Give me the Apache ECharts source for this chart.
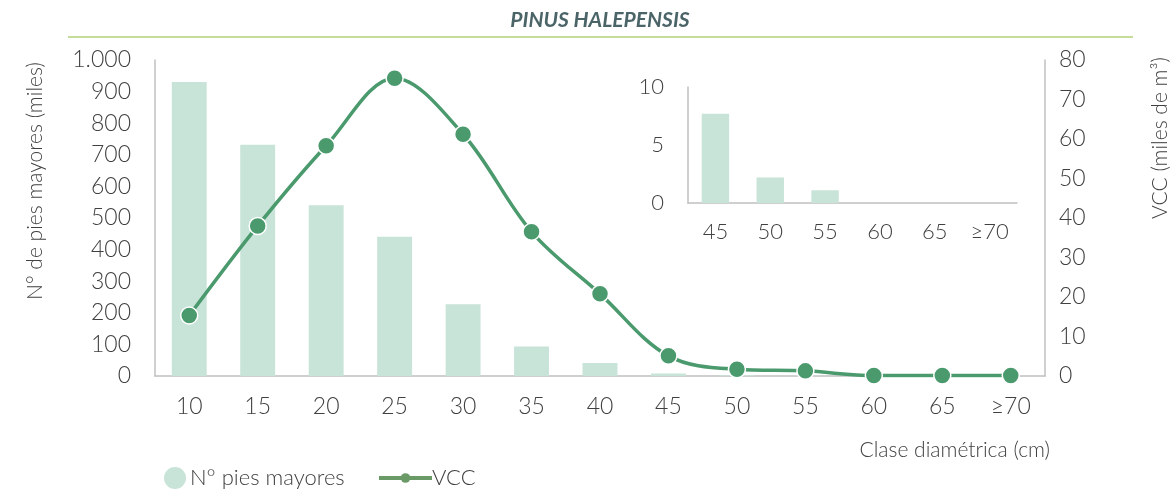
<!DOCTYPE html>
<html><head><meta charset="utf-8">
<script src="https://cdn.jsdelivr.net/npm/echarts@6/dist/echarts.min.js"></script>
<style>html,body{margin:0;padding:0;background:#fff}#c{width:1173px;height:489px}</style>
</head><body><div id="c"></div>
<script>
const categories = ['10','15','20','25','30','35','40','45','50','55','60','65','≥70'];
const piesMayores = [930, 732, 540, 441, 227, 93, 41, 7.7, 2.2, 1.1, 0, 0, 0];
const vcc = [15.3, 38.0, 58.3, 75.4, 61.2, 36.5, 20.8, 5.1, 1.7, 1.3, 0.1, 0.1, 0.1];
const insetCategories = ['45','50','55','60','65','≥70'];
const insetPies = [7.7, 2.2, 1.1, 0, 0, 0];

const FONT = 'Lato';
const TXT = '#404040';
const BAR = '#c8e3d7';
const LINE = '#4a9a6e';
const AX = '#c0c0c0';

const chart = echarts.init(document.getElementById('c'), null, {renderer:'canvas'});
chart.setOption({
  animation:false,
  textStyle:{fontFamily:FONT},
  grid:[
    {left:155, right:128, top:60, bottom:113},
    {left:688, right:156, top:87, bottom:286}
  ],
  xAxis:[
    {type:'category', gridIndex:0, data:categories,
     axisLine:{lineStyle:{color:AX,width:1.5}}, axisTick:{show:false},
     axisLabel:{color:TXT,fontSize:23,fontWeight:300,margin:19,fontFamily:FONT}},
    {type:'category', gridIndex:1, data:insetCategories,
     axisLine:{lineStyle:{color:AX,width:1.5}}, axisTick:{show:false},
     axisLabel:{color:TXT,fontSize:22,fontWeight:300,margin:18,fontFamily:FONT}}
  ],
  yAxis:[
    {type:'value', gridIndex:0, min:0, max:1000, interval:100,
     axisLine:{show:true,lineStyle:{color:AX,width:1.5}}, axisTick:{show:false}, splitLine:{show:false},
     axisLabel:{color:TXT,fontSize:23,fontWeight:300,margin:24,fontFamily:FONT,
       formatter:v=>v===1000?'1.000':String(v)}},
    {type:'value', gridIndex:0, min:0, max:80, interval:10, position:'right',
     axisLine:{show:true,lineStyle:{color:AX,width:1.5}}, axisTick:{show:false}, splitLine:{show:false},
     axisLabel:{color:TXT,fontSize:23,fontWeight:300,margin:14,fontFamily:FONT}},
    {type:'value', gridIndex:1, min:0, max:10, interval:5,
     axisLine:{show:true,lineStyle:{color:AX,width:1.5}}, axisTick:{show:false}, splitLine:{show:false},
     axisLabel:{color:TXT,fontSize:22,fontWeight:300,margin:24,fontFamily:FONT}}
  ],
  legend:[
    {left:159, top:462, itemWidth:22, itemHeight:22, itemGap:20,
     data:[{name:'N° pies mayores', icon:'circle'}],
     textStyle:{color:TXT,fontSize:22,fontWeight:300,fontFamily:FONT,padding:[0,0,0,-1]}},
    {left:372, top:462, itemWidth:53, itemHeight:12,
     data:[{name:'VCC', itemStyle:{color:'#6a9a66',borderWidth:0}, lineStyle:{color:'#6a9a66',width:4}}],
     textStyle:{color:TXT,fontSize:22,fontWeight:300,fontFamily:FONT,padding:[0,0,0,-5]}}
  ],
  series:[
    {name:'N° pies mayores', type:'bar', xAxisIndex:0, yAxisIndex:0, data:piesMayores,
     barWidth:'51%', itemStyle:{color:BAR}},
    {name:'VCC', type:'line', xAxisIndex:0, yAxisIndex:1, data:vcc, smooth:0.35,
     symbol:'circle', symbolSize:17, lineStyle:{color:LINE,width:3.5},
     itemStyle:{color:LINE,borderColor:'#fff',borderWidth:1.5}, z:5},
    {name:'inset', type:'bar', xAxisIndex:1, yAxisIndex:2, data:insetPies,
     barWidth:'50%', itemStyle:{color:BAR}, legendHoverLink:false}
  ],
  graphic:[
    {type:'text', x:600, y:20, style:{text:'PINUS HALEPENSIS', fill:'#4a6468',
      font:'italic bold 21px Lato', align:'center', verticalAlign:'middle'}},
    {type:'line', shape:{x1:68,y1:37,x2:1133,y2:37}, style:{stroke:'#b3d07a',lineWidth:1.5}},
    {type:'text', x:35, y:181, rotation:Math.PI/2, style:{text:'N° de pies mayores (miles)', fill:TXT,
      font:'300 21px Lato', align:'center', verticalAlign:'middle'}},
    {type:'text', x:1160, y:138, rotation:Math.PI/2, style:{text:'VCC (miles de m³)', fill:TXT,
      font:'300 21px Lato', align:'center', verticalAlign:'middle'}},
    {type:'text', x:1050, y:450, style:{text:'Clase diamétrica (cm)', fill:TXT,
      font:'300 21px Lato', align:'right', verticalAlign:'middle'}}
  ]
});
</script></body></html>
